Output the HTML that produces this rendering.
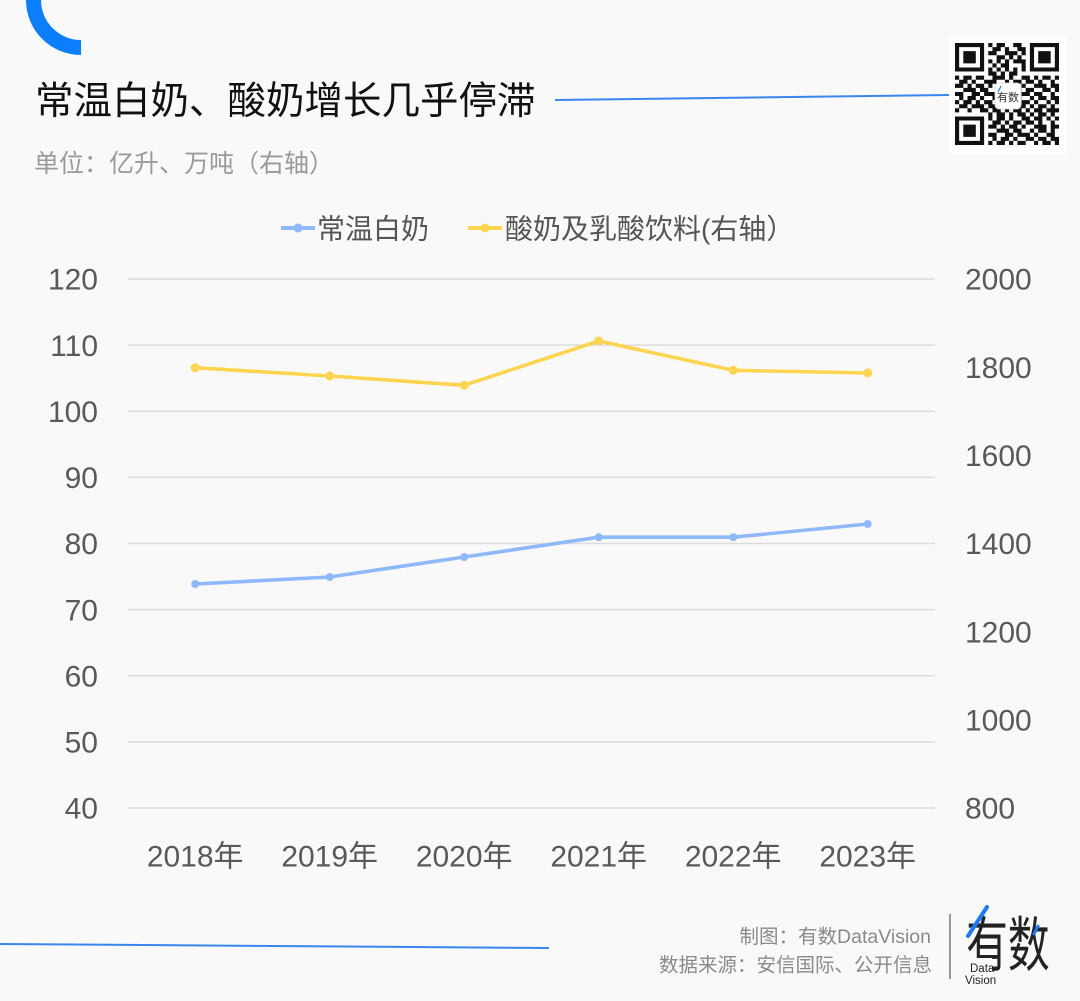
<!DOCTYPE html>
<html>
<head>
<meta charset="utf-8">
<style>
html,body{margin:0;padding:0;background:#f9f9f9;}
svg{display:block;}
text{font-family:"Liberation Sans","Noto Sans CJK SC",sans-serif;}
</style>
</head>
<body>
<svg width="1080" height="1001" viewBox="0 0 1080 1001" xmlns="http://www.w3.org/2000/svg">
<rect x="0" y="0" width="1080" height="1001" fill="#f9f9f9"/>

<!-- top-left arc -->
<path d="M 81 47.5 A 47.5 47.5 0 0 1 33.5 0 L 33.5 -10" fill="none" stroke="#0a7eff" stroke-width="15"/>

<!-- title -->
<text x="35" y="114" font-size="38.5" fill="#111">常温白奶、酸奶增长几乎停滞</text>
<line x1="555" y1="100" x2="949" y2="95" stroke="#3a86f0" stroke-width="2"/>
<text x="34" y="172" font-size="25" fill="#9a9a9a">单位：亿升、万吨（右轴）</text>

<!-- QR -->
<rect x="949" y="37" width="117" height="117" fill="#ffffff"/>
<g transform="translate(955,43) scale(4.16,4.08)" fill="#111">
<path d="M0,0h7v1h-7zM8,0h1v1h-1zM10,0h2v1h-2zM14,0h2v1h-2zM18,0h7v1h-7z
M0,1h1v1h-1zM6,1h1v1h-1zM9,1h2v1h-2zM12,1h1v1h-1zM15,1h2v1h-2zM18,1h1v1h-1zM24,1h1v1h-1z
M0,2h1v1h-1zM2,2h3v1h-3zM6,2h1v1h-1zM8,2h2v1h-2zM12,2h3v1h-3zM16,2h1v1h-1zM18,2h1v1h-1zM20,2h3v1h-3zM24,2h1v1h-1z
M0,3h1v1h-1zM2,3h3v1h-3zM6,3h1v1h-1zM10,3h2v1h-2zM13,3h1v1h-1zM15,3h1v1h-1zM18,3h1v1h-1zM20,3h3v1h-3zM24,3h1v1h-1z
M0,4h1v1h-1zM2,4h3v1h-3zM6,4h1v1h-1zM8,4h1v1h-1zM10,4h1v1h-1zM12,4h1v1h-1zM14,4h3v1h-3zM18,4h1v1h-1zM20,4h3v1h-3zM24,4h1v1h-1z
M0,5h1v1h-1zM6,5h1v1h-1zM9,5h1v1h-1zM11,5h2v1h-2zM16,5h1v1h-1zM18,5h1v1h-1zM24,5h1v1h-1z
M0,6h7v1h-7zM8,6h1v1h-1zM10,6h1v1h-1zM12,6h1v1h-1zM14,6h1v1h-1zM16,6h1v1h-1zM18,6h7v1h-7z
M8,7h2v1h-2zM11,7h1v1h-1zM13,7h2v1h-2z
M0,8h1v1h-1zM2,8h2v1h-2zM5,8h2v1h-2zM9,8h3v1h-3zM13,8h1v1h-1zM16,8h2v1h-2zM19,8h1v1h-1zM21,8h2v1h-2zM24,8h1v1h-1z
M1,9h2v1h-2zM4,9h1v1h-1zM7,9h3v1h-3zM12,9h1v1h-1zM14,9h2v1h-2zM17,9h2v1h-2zM20,9h1v1h-1zM23,9h1v1h-1z
M0,10h2v1h-2zM3,10h1v1h-1zM5,10h2v1h-2zM8,10h1v1h-1zM10,10h2v1h-2zM13,10h2v1h-2zM16,10h1v1h-1zM19,10h3v1h-3zM23,10h2v1h-2z
M2,11h3v1h-3zM6,11h2v1h-2zM10,11h1v1h-1zM12,11h2v1h-2zM15,11h1v1h-1zM17,11h2v1h-2zM21,11h2v1h-2zM24,11h1v1h-1z
M0,12h2v1h-2zM4,12h2v1h-2zM7,12h3v1h-3zM11,12h1v1h-1zM14,12h1v1h-1zM16,12h2v1h-2zM19,12h2v1h-2zM23,12h1v1h-1z
M1,13h1v1h-1zM3,13h2v1h-2zM6,13h1v1h-1zM9,13h2v1h-2zM12,13h2v1h-2zM15,13h1v1h-1zM18,13h1v1h-1zM20,13h2v1h-2zM23,13h2v1h-2z
M0,14h1v1h-1zM2,14h2v1h-2zM5,14h1v1h-1zM7,14h2v1h-2zM11,14h2v1h-2zM14,14h1v1h-1zM16,14h2v1h-2zM19,14h1v1h-1zM22,14h1v1h-1zM24,14h1v1h-1z
M1,15h2v1h-2zM4,15h3v1h-3zM8,15h2v1h-2zM11,15h1v1h-1zM13,15h1v1h-1zM15,15h2v1h-2zM18,15h1v1h-1zM20,15h2v1h-2zM23,15h1v1h-1z
M0,16h1v1h-1zM3,16h1v1h-1zM6,16h2v1h-2zM9,16h2v1h-2zM12,16h1v1h-1zM14,16h2v1h-2zM17,16h1v1h-1zM19,16h2v1h-2zM22,16h3v1h-3z
M8,17h1v1h-1zM10,17h2v1h-2zM13,17h1v1h-1zM15,17h2v1h-2zM18,17h1v1h-1zM20,17h2v1h-2zM23,17h1v1h-1z
M0,18h7v1h-7zM8,18h1v1h-1zM10,18h2v1h-2zM13,18h1v1h-1zM16,18h2v1h-2zM19,18h2v1h-2zM22,18h1v1h-1zM24,18h1v1h-1z
M0,19h1v1h-1zM6,19h1v1h-1zM9,19h2v1h-2zM12,19h1v1h-1zM14,19h2v1h-2zM17,19h2v1h-2zM20,19h1v1h-1zM23,19h1v1h-1z
M0,20h1v1h-1zM2,20h3v1h-3zM6,20h1v1h-1zM8,20h2v1h-2zM11,20h1v1h-1zM13,20h2v1h-2zM16,20h1v1h-1zM19,20h3v1h-3zM23,20h2v1h-2z
M0,21h1v1h-1zM2,21h3v1h-3zM6,21h1v1h-1zM10,21h3v1h-3zM14,21h2v1h-2zM18,21h1v1h-1zM20,21h2v1h-2zM23,21h1v1h-1z
M0,22h1v1h-1zM2,22h3v1h-3zM6,22h1v1h-1zM8,22h2v1h-2zM12,22h2v1h-2zM15,22h3v1h-3zM19,22h1v1h-1zM22,22h2v1h-2z
M0,23h1v1h-1zM6,23h1v1h-1zM9,23h1v1h-1zM11,23h2v1h-2zM14,23h1v1h-1zM17,23h2v1h-2zM20,23h2v1h-2zM23,23h2v1h-2z
M0,24h7v1h-7zM8,24h1v1h-1zM10,24h2v1h-2zM13,24h1v1h-1zM15,24h2v1h-2zM19,24h1v1h-1zM21,24h2v1h-2zM24,24h1v1h-1z"/>
</g>
<rect x="995" y="83" width="26" height="26" rx="4" fill="#ffffff" stroke="#dddddd" stroke-width="0.8"/>
<text x="997" y="101" font-size="11" fill="#333">有数</text>
<line x1="1001" y1="86" x2="998" y2="92" stroke="#1a7cff" stroke-width="1.2"/>

<!-- legend -->
<line x1="281" y1="228" x2="315" y2="228" stroke="#8fb9ff" stroke-width="4"/>
<circle cx="298" cy="228" r="4.5" fill="#8fb9ff"/>
<text x="317" y="238.5" font-size="28" fill="#555">常温白奶</text>
<line x1="468" y1="228" x2="502" y2="228" stroke="#ffd54f" stroke-width="4"/>
<circle cx="485" cy="228" r="4.5" fill="#ffd54f"/>
<text x="505" y="238.5" font-size="28" fill="#555">酸奶及乳酸饮料(右轴）</text>

<!-- gridlines -->
<g stroke="#dcdcdc" stroke-width="1.5">
<line x1="128" y1="279" x2="935" y2="279"/>
<line x1="128" y1="345.1" x2="935" y2="345.1"/>
<line x1="128" y1="411.3" x2="935" y2="411.3"/>
<line x1="128" y1="477.4" x2="935" y2="477.4"/>
<line x1="128" y1="543.5" x2="935" y2="543.5"/>
<line x1="128" y1="609.6" x2="935" y2="609.6"/>
<line x1="128" y1="675.8" x2="935" y2="675.8"/>
<line x1="128" y1="741.9" x2="935" y2="741.9"/>
<line x1="128" y1="808" x2="935" y2="808"/>
</g>

<!-- left axis labels -->
<g font-size="30" fill="#595959" text-anchor="end">
<text x="98" y="289.7">120</text>
<text x="98" y="355.8">110</text>
<text x="98" y="422">100</text>
<text x="98" y="488.1">90</text>
<text x="98" y="554.2">80</text>
<text x="98" y="620.3">70</text>
<text x="98" y="686.5">60</text>
<text x="98" y="752.6">50</text>
<text x="98" y="818.7">40</text>
</g>

<!-- right axis labels -->
<g font-size="30" fill="#595959">
<text x="965" y="289.7">2000</text>
<text x="965" y="377.9">1800</text>
<text x="965" y="466">1600</text>
<text x="965" y="554.2">1400</text>
<text x="965" y="642.4">1200</text>
<text x="965" y="730.5">1000</text>
<text x="965" y="818.7">800</text>
</g>

<!-- x labels -->
<g font-size="30" fill="#595959" text-anchor="middle">
<text x="195.2" y="866.7">2018年</text>
<text x="329.7" y="866.7">2019年</text>
<text x="464.2" y="866.7">2020年</text>
<text x="598.7" y="866.7">2021年</text>
<text x="733.2" y="866.7">2022年</text>
<text x="867.7" y="866.7">2023年</text>
</g>

<!-- yellow series -->
<polyline points="195.2,367.7 329.7,376 464.2,385.3 598.7,341 733.2,370.3 867.7,373" fill="none" stroke="#ffd54f" stroke-width="3.6" stroke-linejoin="round"/>
<g fill="#ffd54f">
<circle cx="195.2" cy="367.7" r="4.5"/>
<circle cx="329.7" cy="376" r="4.5"/>
<circle cx="464.2" cy="385.3" r="4.5"/>
<circle cx="598.7" cy="341" r="4.5"/>
<circle cx="733.2" cy="370.3" r="4.5"/>
<circle cx="867.7" cy="373" r="4.5"/>
</g>

<!-- blue series -->
<polyline points="195.2,584 329.7,577 464.2,557 598.7,537.2 733.2,537.2 867.7,524" fill="none" stroke="#8fb9ff" stroke-width="3.6" stroke-linejoin="round"/>
<g fill="#8fb9ff">
<circle cx="195.2" cy="584" r="4"/>
<circle cx="329.7" cy="577" r="4"/>
<circle cx="464.2" cy="557" r="4"/>
<circle cx="598.7" cy="537.2" r="4"/>
<circle cx="733.2" cy="537.2" r="4"/>
<circle cx="867.7" cy="524" r="4"/>
</g>

<!-- bottom line -->
<line x1="0" y1="944" x2="549" y2="948" stroke="#3a86f0" stroke-width="2"/>

<!-- footer -->
<g font-size="19.5" fill="#8a8a8a" text-anchor="end">
<text x="931" y="943">制图：有数DataVision</text>
<text x="932" y="971.5">数据来源：安信国际、公开信息</text>
</g>
<line x1="950" y1="914" x2="950" y2="979" stroke="#777" stroke-width="1.5"/>

<!-- logo -->
<text x="1017" y="715.5" font-size="44" fill="#222" transform="scale(0.95,1.35)">有数</text>
<line x1="987" y1="907" x2="968" y2="936" stroke="#1a7cff" stroke-width="4" stroke-linecap="round"/>
<line x1="1038" y1="926" x2="1034" y2="934" stroke="#1a7cff" stroke-width="3" stroke-linecap="round"/>
<rect x="966" y="958" width="26" height="28" fill="#f9f9f9"/>
<text x="970" y="972" font-size="11.5" fill="#222">Data</text>
<text x="965" y="984" font-size="11.5" fill="#222">Vision</text>
</svg>
</body>
</html>
